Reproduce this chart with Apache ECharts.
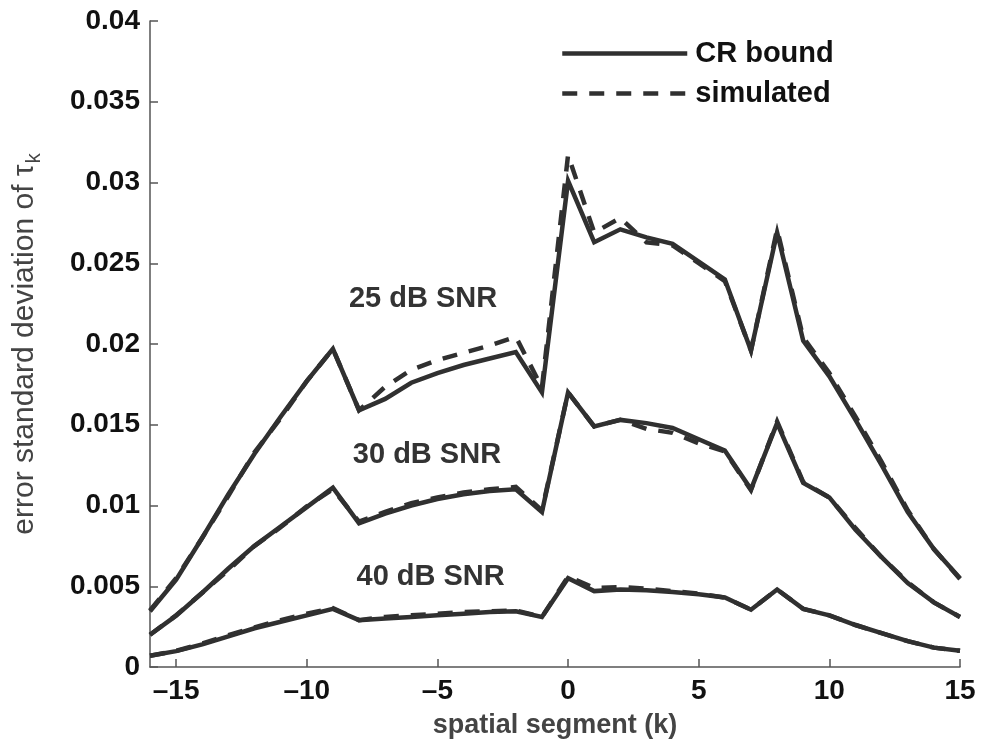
<!DOCTYPE html>
<html><head><meta charset="utf-8">
<script src="https://cdn.jsdelivr.net/npm/echarts@6/dist/echarts.min.js"></script>
<style>html,body{margin:0;padding:0;background:#fff}#c{width:985px;height:750px}</style>
</head><body><div id="c"></div>
<script>
// spatial segment index k
const kValues = [-16,-15,-14,-13,-12,-11,-10,-9,-8,-7,-6,-5,-4,-3,-2,-1,0,1,2,3,4,5,6,7,8,9,10,11,12,13,14,15];
// 25 dB SNR
const crb25 = [0.00345,0.0054,0.0080,0.0107,0.0132,0.0155,0.0177,0.0197,0.0159,0.0166,0.0176,0.0182,0.0187,0.0191,0.0195,0.0170,0.0301,0.0263,0.0271,0.0266,0.0262,0.0251,0.0240,0.0196,0.0269,0.0202,0.0180,0.0153,0.0125,0.0096,0.0073,0.0055];
const sim25 = [0.0035,0.0055,0.0080,0.0106,0.0133,0.0154,0.0177,0.0197,0.0159,0.01735,0.0184,0.0190,0.01946,0.0199,0.02045,0.0173,0.0317,0.0269,0.0278,0.0263,0.0261,0.0250,0.0239,0.0196,0.0271,0.0204,0.0182,0.0155,0.0127,0.0097,0.0073,0.00545];
// 30 dB SNR
const crb30 = [0.0020,0.00318,0.0046,0.0061,0.0075,0.0087,0.0099,0.0111,0.0089,0.0095,0.0100,0.0104,0.0107,0.0109,0.0110,0.0096,0.0170,0.0149,0.0153,0.0151,0.0148,0.0141,0.0134,0.0110,0.0151,0.0114,0.0105,0.0085,0.0068,0.0052,0.0040,0.0031];
const sim30 = [0.0020,0.0032,0.0046,0.0060,0.0075,0.00865,0.00995,0.0110,0.0090,0.0096,0.01015,0.0105,0.0108,0.0110,0.01115,0.0097,0.0170,0.0149,0.0153,0.01475,0.0145,0.01385,0.01335,0.01095,0.0152,0.01145,0.0105,0.0086,0.0068,0.00525,0.0040,0.0031];
// 40 dB SNR
const crb40 = [0.0007,0.00098,0.0014,0.0019,0.0024,0.0028,0.0032,0.0036,0.0029,0.0030,0.0031,0.0032,0.0033,0.0034,0.00345,0.0031,0.0055,0.0047,0.0048,0.00475,0.00465,0.0045,0.0043,0.00355,0.0048,0.0036,0.0032,0.0026,0.0021,0.0016,0.0012,0.0010];
const sim40 = [0.0007,0.0010,0.00145,0.00197,0.00245,0.0029,0.0033,0.00365,0.0029,0.0031,0.0032,0.0033,0.0034,0.00345,0.0035,0.0031,0.0056,0.0049,0.00495,0.00485,0.0047,0.00455,0.0043,0.00355,0.0048,0.0036,0.0032,0.0026,0.0021,0.0016,0.0012,0.0010];

const xTicks = [-15,-10,-5,0,5,10,15];
const seriesNames = ['CR bound','simulated'];
const annoText = ['25 dB SNR','30 dB SNR','40 dB SNR'];
const annoK = [-5.55,-5.4,-5.26];
const annoV = [0.0228,0.0131,0.0056];

const FONT = '"Liberation Sans", Arial, sans-serif';
const LC = '#303030';
const chart = echarts.init(document.getElementById('c'), null, {renderer:'canvas'});

function mk(name, vals, dashed){
  return {
    type:'line', name:name, data:kValues.map((k,i)=>[k, vals[i]]),
    symbol:'none', silent:true, animation:false, z: dashed?3:2,
    lineStyle:{color:LC, width:4.5, type: dashed?[15,12]:'solid', cap:'butt', join:'miter'},
    itemStyle:{color:LC}
  };
}
const axisLineStyle = {color:'#555', width:1.5};

chart.setOption({
  backgroundColor:'#fff',
  animation:false,
  grid:{left:150, right:25, top:21, bottom:83, containLabel:false},
  legend:{
    data:seriesNames, orient:'vertical', left:555, top:34,
    itemWidth:125, itemHeight:30, itemGap:11,
    itemStyle:{opacity:0},
    lineStyle:{width:4.5},
    textStyle:{fontSize:29, fontWeight:'bold', color:'#111', fontFamily:FONT, padding:[0,0,0,3]},
    selectedMode:false
  },
  xAxis:{
    type:'value', min:-16, max:15,
    axisLine:{show:true, onZero:false, lineStyle:axisLineStyle},
    axisTick:{show:true, inside:true, length:8, customValues:xTicks, lineStyle:axisLineStyle},
    axisLabel:{customValues:xTicks, formatter:v=>String(v).replace('-','\u2013'), fontSize:28, fontWeight:'bold', color:'#111', fontFamily:FONT, margin:10},
    splitLine:{show:false},
    name:'spatial segment (k)', nameLocation:'middle', nameGap:45,
    nameTextStyle:{fontSize:27, fontWeight:'bold', color:'#444', fontFamily:FONT}
  },
  yAxis:{
    type:'value', min:0, max:0.04, interval:0.005,
    axisLine:{show:true, onZero:false, lineStyle:axisLineStyle},
    axisTick:{show:true, inside:true, length:8, lineStyle:axisLineStyle},
    axisLabel:{formatter:v=>String(+v.toFixed(3)), fontSize:28, fontWeight:'bold', color:'#111', fontFamily:FONT, margin:10},
    splitLine:{show:false},
    name:'{a|error standard deviation of \u03c4}{s|k}', nameLocation:'middle', nameGap:106, nameRotate:90,
    nameTextStyle:{
      rich:{
        a:{fontSize:30, color:'#444', fontFamily:FONT, lineHeight:38},
        s:{fontSize:20, color:'#444', fontFamily:FONT, lineHeight:38, verticalAlign:'bottom', padding:[12,0,0,1]}
      }
    }
  },
  series:[mk(seriesNames[0],crb25,false),mk(seriesNames[0],crb30,false),mk(seriesNames[0],crb40,false),
          mk(seriesNames[1],sim25,true),mk(seriesNames[1],sim30,true),mk(seriesNames[1],sim40,true)]
});

const pts = annoK.map((k,i)=>chart.convertToPixel({gridIndex:0},[k, annoV[i]]));
chart.setOption({graphic: annoText.map((t,i)=>({
  type:'text', x:pts[i][0], y:pts[i][1], silent:true,
  style:{text:t, font:'bold 29px '+FONT, fill:'#333', textAlign:'center', textVerticalAlign:'middle'}
}))});
</script></body></html>
